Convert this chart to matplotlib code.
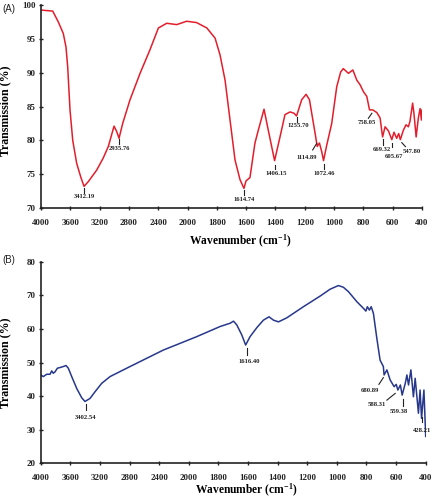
import numpy as np
import matplotlib
matplotlib.use("Agg")
import matplotlib.pyplot as plt

# ---------------- data ----------------
wn_a = [4000, 3840, 3764, 3696, 3659, 3636, 3604, 3567, 3513, 3458, 3413, 3354, 3240, 3150,
        3081, 3003, 2967, 2935, 2885, 2785, 2648, 2512, 2398, 2284, 2148, 2012, 1938, 1868,
        1812, 1778, 1744, 1710, 1676, 1642, 1615, 1601, 1574, 1540, 1517, 1478, 1449, 1406,
        1369, 1335, 1300, 1273, 1256, 1221, 1191, 1168, 1130, 1115, 1100, 1084, 1072, 1050,
        1016, 982, 955, 937, 902, 872, 845, 822, 800, 777, 758, 736, 708, 686, 669, 652,
        629, 606, 591, 573, 559, 548, 527, 509, 493, 482, 464, 455, 440, 425, 413, 404, 400]
tr_a = [99.25, 99.1, 97.5, 95.8, 93.8, 90.9, 84.5, 80.0, 76.6, 74.6, 73.2, 73.9, 75.6, 77.4,
        79.1, 82.1, 81.3, 80.3, 82.5, 86.0, 89.9, 93.4, 96.6, 97.3, 97.1, 97.6, 97.4, 96.6,
        95.1, 92.6, 88.9, 83.0, 77.1, 74.2, 72.9, 74.0, 74.5, 79.6, 81.5, 84.6, 81.5, 77.0,
        80.5, 83.8, 84.2, 84.0, 83.6, 86.0, 86.8, 86.0, 81.1, 79.1, 79.6, 78.3, 77.0, 79.3,
        82.5, 87.9, 90.1, 90.6, 89.9, 90.4, 88.9, 88.2, 87.2, 86.5, 84.5, 84.5, 84.1, 83.3,
        80.5, 82.0, 81.4, 80.1, 81.2, 80.3, 81.0, 80.1, 81.5, 82.3, 82.0, 82.8, 85.5, 84.0,
        80.5, 83.3, 84.7, 83.0, 84.5]

wn_b = [4000, 3965, 3919, 3874, 3851, 3830, 3807, 3775, 3739, 3695, 3658, 3627, 3581, 3514,
        3446, 3402, 3334, 3266, 3176, 3064, 2793, 2344, 1946, 1789, 1720, 1698, 1676, 1642,
        1616, 1586, 1540, 1496, 1458, 1428, 1394, 1338, 1226, 1112, 1046, 990, 956, 922,
        865, 820, 804, 794, 780, 768, 753, 730, 708, 686, 681, 662, 640, 613, 599, 588,
        571, 559, 538, 527, 516, 500, 483, 471, 449, 438, 428, 412, 400]
tr_b = [46.3, 45.8, 46.5, 46.5, 47.5, 46.8, 47.2, 48.3, 48.5, 48.8, 49.1, 48.3, 45.8, 42.3,
        39.5, 38.4, 39.3, 41.3, 43.8, 45.8, 48.8, 53.7, 57.7, 60.7, 61.7, 62.3, 61.2, 58.2,
        55.2, 57.7, 60.4, 62.6, 63.6, 62.6, 62.1, 63.3, 66.6, 69.8, 71.8, 72.9, 72.4, 71.1,
        68.1, 66.1, 65.3, 66.6, 65.6, 66.6, 64.6, 57.2, 50.7, 48.8, 46.3, 47.8, 44.8, 42.8,
        43.5, 41.8, 43.3, 40.3, 43.8, 46.3, 43.3, 47.8, 39.8, 45.3, 34.9, 41.8, 33.4, 41.8,
        28.0]

peaks_a = ["3412.19", "2935.76", "1614.74", "1406.15", "1255.70", "1114.89", "1072.46",
           "758.05", "669.32", "605.67", "547.80"]
peaks_b = ["3402.54", "1616.40", "680.89", "588.31", "559.38", "428.21"]

xticks = [4000, 3600, 3200, 2800, 2400, 2000, 1800, 1600, 1400, 1200, 1000, 800, 600, 400]
yticks_a = [70, 75, 80, 85, 90, 95, 100]
yticks_b = [20, 30, 40, 50, 60, 70, 80]

# ------------- annotation layout (line x0,y0,x1,y1 ; text x,y) -------------
lay_a = [
    (3412, 72.97, 3412, 72.2, 3412, 72.08),
    (2935, 80.2, 2935, 79.47, 2935, 79.17),
    (1614, 72.67, 1614, 71.9, 1614, 71.64),
    (1404, 76.37, 1404, 75.78, 1396, 75.48),
    (1252, 83.46, 1252, 82.7, 1246, 82.57),
    (1118, 79.57, 1146, 78.58, 1184, 77.84),
    (1070, 76.5, 1070, 75.78, 1068, 75.48),
    (742, 84.0, 766, 83.26, 777, 83.0),
    (669, 80.16, 669, 79.32, 675, 78.98),
    (602, 79.66, 602, 78.98, 590, 77.99),
    (538, 79.66, 513, 79.07, 470, 78.69),
]
lay_b = [
    (3392, 37.56, 3392, 35.86, 3392, 34.4),
    (1608, 54.2, 1608, 52.2, 1590, 51.0),
    (686, 45.5, 716, 43.5, 775, 42.5),
    (606, 40.8, 662, 38.8, 730, 38.2),
    (554, 39.1, 554, 37.1, 584, 36.2),
    (426, 33.9, 426, 32.2, 426, 30.4),
]

SERIF = ["Liberation Serif", "DejaVu Serif"]

plt.rcParams["mathtext.fontset"] = "custom"
plt.rcParams["mathtext.rm"] = "Liberation Serif:bold"
plt.rcParams["mathtext.bf"] = "Liberation Serif:bold"
plt.rcParams["mathtext.it"] = "Liberation Serif:bold"


def fwd(x):
    x = np.asarray(x, dtype=float)
    return np.where(x > 2000, 2000 + (x - 2000) / 2.0, x)


def inv(y):
    y = np.asarray(y, dtype=float)
    return np.where(y > 2000, 2000 + (y - 2000) * 2.0, y)


fig = plt.figure(figsize=(4.35, 5.0), dpi=100)
ax1 = fig.add_axes([41 / 435, 1 - 208 / 500, 381 / 435, 203 / 500])
ax2 = fig.add_axes([40.7 / 435, 1 - 463.3 / 500, 385 / 435, 201.6 / 500])


def style(ax, yticks, ylim):
    ax.set_xscale("function", functions=(fwd, inv))
    ax.set_xlim(4000, 400)
    ax.set_ylim(*ylim)
    ax.set_xticks(xticks)
    ax.set_xticklabels([str(t) for t in xticks])
    ax.set_yticks(yticks)
    ax.minorticks_off()
    for s in ["top", "right"]:
        ax.spines[s].set_visible(False)
    for s in ["left", "bottom"]:
        ax.spines[s].set_linewidth(1.2)
        ax.spines[s].set_color("#222222")
    ax.tick_params(axis="x", direction="inout", length=3.5, width=1.0, pad=6,
                   labelsize=6.4, colors="#222222")
    ax.tick_params(axis="y", direction="inout", length=3.5, width=1.0, pad=2,
                   labelsize=6.4, colors="#222222")
    for lab in ax.get_xticklabels() + ax.get_yticklabels():
        lab.set_fontfamily(SERIF)
        lab.set_fontweight("bold")
    ax.set_ylabel("Transmission (%)", fontfamily=SERIF, fontweight="bold", fontsize=8.6)
    ax.set_xlabel("Wavenumber (cm$^{-1}$)", fontfamily=SERIF, fontweight="bold",
                  fontsize=8.3)


style(ax1, yticks_a, (70, 100))
style(ax2, yticks_b, (20, 80))
ax1.yaxis.set_label_coords(-0.077, 0.48)
ax1.xaxis.set_label_coords(0.522, -0.125)
ax2.yaxis.set_label_coords(-0.076, 0.5)
ax2.xaxis.set_label_coords(0.533, -0.094)

ax1.plot(wn_a, tr_a, color="#e31e2c", lw=1.1, solid_joinstyle="round")
ax2.plot(wn_b, tr_b, color="#27388c", lw=1.1, solid_joinstyle="round")


def annotate(ax, labels, layout):
    for lab, (x0, y0, x1, y1, xt, yt) in zip(labels, layout):
        ax.plot([x0, x1], [y0, y1], color="#222222", lw=0.8)
        ax.text(xt, yt, lab, ha="center", va="top", fontsize=4.8, fontweight="bold",
                family=SERIF, color="#222222")


annotate(ax1, peaks_a, lay_a)
annotate(ax2, peaks_b, lay_b)

fig.text(2 / 435, 1 - 9 / 500, "(A)", fontsize=7, family=["Liberation Sans", "DejaVu Sans"],
         va="center", ha="left", color="#222222")
fig.text(2 / 435, 1 - 260 / 500, "(B)", fontsize=7, family=["Liberation Sans", "DejaVu Sans"],
         va="center", ha="left", color="#222222")

fig.savefig("out.png", dpi=100)
